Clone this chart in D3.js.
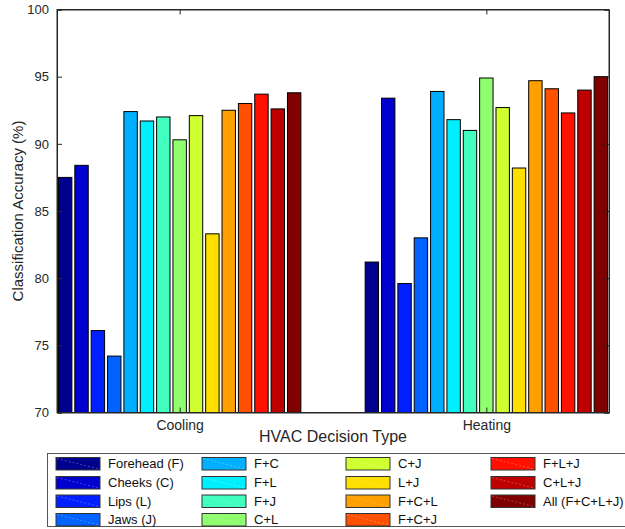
<!DOCTYPE html>
<html>
<head>
<meta charset="utf-8">
<script src="https://cdn.jsdelivr.net/npm/d3@7"></script>
<style>
  html, body { margin: 0; padding: 0; background: #fff; }
  svg { display: block; font-family: "Liberation Sans", Arial, Helvetica, sans-serif; }
</style>
</head>
<body>
<div class="d3Chart"></div>
<script>
//#region data

var groups = ["Cooling", "Heating"];
var features = [
  "Forehead (F)", "Cheeks (C)", "Lips (L)", "Jaws (J)",
  "F+C", "F+L", "F+J", "C+L",
  "C+J", "L+J", "F+C+L", "F+C+J",
  "F+L+J", "C+L+J", "All (F+C+L+J)"
];
var coolingValues = [87.5, 88.4, 76.1, 74.2, 92.4, 91.7, 92.0, 90.3, 92.1, 83.3, 92.5, 93.0, 93.7, 92.6, 93.8];
var heatingValues = [81.2, 93.4, 79.6, 83.0, 93.9, 91.8, 91.0, 94.9, 92.7, 88.2, 94.7, 94.1, 92.3, 94.0, 95.0];
var yTicks = [70, 75, 80, 85, 90, 95, 100];

//#endregion

//#region canvas

var width = 625;
var height = 529;
var plot = { left: 57, right: 609, top: 9.5, bottom: 412.5 };
var axisColor = "#262626";

// jet-like colours, one per feature
var palette = [
  "#00008f", "#0000cf", "#0020ff", "#0062ff", "#00afff", "#00efff",
  "#40ffbf", "#8fff70", "#cfff30", "#ffdf00", "#ff9f00", "#ff5000",
  "#ff1000", "#bf0000", "#800000"
];

var svg = d3
  .select(".d3Chart")
  .append("svg")
  .attr("width", width)
  .attr("height", height);

//#endregion

//#region scales

var yScale = d3.scaleLinear().domain([70, 100]).range([plot.bottom, plot.top]);

// group centres sit at 1 and 2, MATLAB-style tight x limits
var xScale = d3.scaleLinear().domain([0.6, 2.4]).range([plot.left, plot.right]);

var colorScale = d3.scaleOrdinal().domain(features).range(palette);

var series = [coolingValues, heatingValues];
var barData = [];
groups.forEach((g, gi) => {
  features.forEach((f, fi) => {
    barData.push({ group: g, gi: gi, feature: f, fi: fi, value: series[gi][fi] });
  });
});

// inner band scale per group, group spans 0.8 units
function innerScale(gi) {
  var c = xScale(gi + 1);
  var half = xScale(1.4) - xScale(1);
  return d3.scaleBand()
    .domain(d3.range(features.length))
    .range([c - half, c + half])
    .paddingInner(0.18)
    .paddingOuter(0.09);
}
var inner = groups.map((g, gi) => innerScale(gi));

//#endregion

//#region bars

svg.append("g")
  .selectAll("rect")
  .data(barData)
  .enter()
  .append("rect")
  .attr("x", (d) => inner[d.gi](d.fi))
  .attr("width", (d) => inner[d.gi].bandwidth())
  .attr("y", (d) => yScale(d.value))
  .attr("height", (d) => yScale(70) - yScale(d.value))
  .attr("fill", (d) => colorScale(d.feature))
  .attr("stroke", "#000")
  .attr("stroke-width", 1);

//#endregion

//#region axes

var tickLen = 5;

var yAxis = svg.append("g")
  .attr("transform", `translate(${plot.left},0)`)
  .call(d3.axisLeft(yScale).tickValues(yTicks).tickSize(-tickLen).tickPadding(8));

svg.append("g")
  .attr("transform", `translate(${plot.right},0)`)
  .call(d3.axisRight(yScale).tickValues(yTicks).tickSize(-tickLen).tickFormat(""));

var xAxis = svg.append("g")
  .attr("transform", `translate(0,${plot.bottom})`)
  .call(d3.axisBottom(xScale).tickValues([1, 2]).tickSize(-tickLen).tickPadding(10)
    .tickFormat((d) => groups[d - 1]));

svg.append("g")
  .attr("transform", `translate(0,${plot.top})`)
  .call(d3.axisTop(xScale).tickValues([1, 2]).tickSize(-tickLen).tickFormat(""));

svg.selectAll(".domain").attr("stroke", axisColor);
svg.selectAll(".tick line").attr("stroke", axisColor);
svg.selectAll(".tick text").attr("fill", axisColor).attr("font-family", "Liberation Sans, Arial, sans-serif");
yAxis.selectAll(".tick text").attr("font-size", 13);
xAxis.selectAll(".tick text").attr("font-size", 14).attr("dy", "0.55em");

// box outline
svg.append("rect")
  .attr("x", plot.left)
  .attr("y", plot.top)
  .attr("width", plot.right - plot.left)
  .attr("height", plot.bottom - plot.top)
  .attr("fill", "none")
  .attr("stroke", axisColor)
  .attr("stroke-width", 1);

// axis titles
svg.append("text")
  .attr("x", (plot.left + plot.right) / 2)
  .attr("y", 442)
  .attr("text-anchor", "middle")
  .attr("font-size", 16)
  .attr("fill", axisColor)
  .text("HVAC Decision Type");

svg.append("text")
  .attr("transform", `translate(23,${(plot.top + plot.bottom) / 2}) rotate(-90)`)
  .attr("text-anchor", "middle")
  .attr("font-size", 15)
  .attr("fill", axisColor)
  .text("Classification Accuracy (%)");

//#endregion

//#region legend

var legend = svg.append("g");
var rows = 4;
var colX = [56, 202, 346, 491];
var rowY = [457.5, 476.5, 495, 513.5];
var swW = 44;
var swH = 12.5;

legend.append("rect")
  .attr("x", 47.5)
  .attr("y", 453.5)
  .attr("width", 600)
  .attr("height", 73)
  .attr("fill", "#fff")
  .attr("stroke", "#555")
  .attr("stroke-width", 1);

var items = legend.selectAll(".item")
  .data(features)
  .enter()
  .append("g")
  .attr("class", "item")
  .attr("transform", (d, i) => `translate(${colX[Math.floor(i / rows)]},${rowY[i % rows]})`);

items.append("rect")
  .attr("width", swW)
  .attr("height", swH)
  .attr("fill", (d) => colorScale(d))
  .attr("stroke", "#333")
  .attr("stroke-width", 1);

items.append("line")
  .attr("x1", 1).attr("y1", 1)
  .attr("x2", swW - 1).attr("y2", swH - 1)
  .attr("stroke", "rgba(255,255,255,0.35)")
  .attr("stroke-width", 0.8)
  .attr("stroke-dasharray", "2,2");

items.append("text")
  .attr("x", swW + 8)
  .attr("y", swH / 2)
  .attr("dy", "0.36em")
  .attr("font-size", 13)
  .attr("fill", "#111")
  .text((d) => d);

//#endregion
</script>
</body>
</html>
